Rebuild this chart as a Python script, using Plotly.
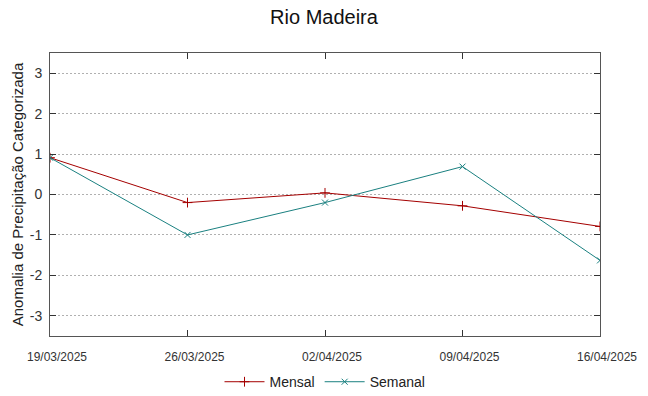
import plotly.graph_objects as go

dates = ["19/03/2025", "26/03/2025", "02/04/2025", "09/04/2025", "16/04/2025"]
mensal = [0.91, -0.20, 0.04, -0.28, -0.79]
semanal = [0.91, -1.00, -0.20, 0.69, -1.63]
y_ticks = [-3, -2, -1, 0, 1, 2, 3]
y_labels = ["-3", "-2", "-1", "0", "1", "2", "3"]

FONT = "Liberation Sans, Arial, sans-serif"

fig = go.Figure()
fig.add_trace(go.Scatter(
    x=dates, y=mensal, name="Mensal", mode="lines+markers",
    line=dict(color="#a40000", width=1),
    marker=dict(symbol="cross-thin", size=7, line=dict(color="#a40000", width=1)),
))
fig.add_trace(go.Scatter(
    x=dates, y=semanal, name="Semanal", mode="lines+markers",
    line=dict(color="#1a8080", width=1),
    marker=dict(symbol="x-thin", size=6, line=dict(color="#1a8080", width=1)),
))

fig.update_layout(
    width=648, height=396,
    margin=dict(l=50, r=48, t=53, b=60, autoexpand=False),
    paper_bgcolor="white", plot_bgcolor="white",
    font=dict(family=FONT, color="#222222"),
    title=dict(text="Rio Madeira", x=0.5, xanchor="center", y=0.975, yanchor="top",
               font=dict(size=20, family=FONT, color="#111111")),
    showlegend=True,
    legend=dict(orientation="h", x=0.5, xanchor="center", y=-0.163, yanchor="middle",
                font=dict(size=14, family=FONT), itemwidth=40),
    xaxis=dict(
        type="category", range=[0, 4], automargin=False,
        showgrid=False, showline=True, linecolor="#555555", linewidth=1, mirror="ticks",
        ticks="inside", ticklen=6, tickcolor="#333333", ticklabelstandoff=10,
        ticklabelshift=7,
        tickfont=dict(size=12, family=FONT, color="#333333"),
        zeroline=False,
    ),
    yaxis=dict(
        range=[-3.5, 3.5], tickvals=y_ticks, ticktext=y_labels, automargin=False,
        showgrid=True, gridcolor="#b0b0b0", griddash="2px,2px", gridwidth=1,
        showline=True, linecolor="#555555", linewidth=1, mirror="ticks",
        ticks="inside", ticklen=6, tickcolor="#333333", ticklabelstandoff=4,
        tickfont=dict(size=14, family=FONT, color="#333333"),
        zeroline=False,
        title=dict(text="Anomalia de Precipitação Categorizada", standoff=2,
                   font=dict(size=15, family=FONT, color="#222222")),
    ),
)

fig.write_html("out.html", config={"displayModeBar": False},
               post_script="document.body.style.margin='0';")
